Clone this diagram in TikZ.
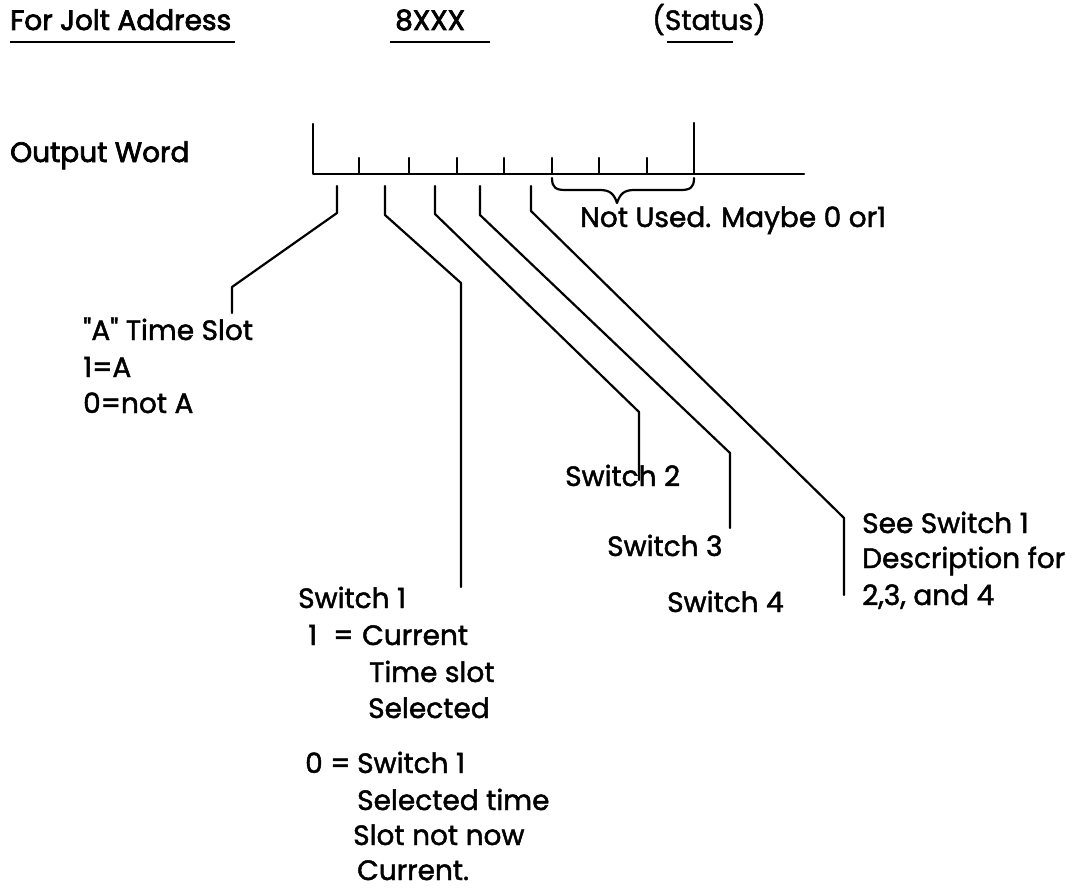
\documentclass[tikz,border=0pt]{standalone}
\usepackage{fontspec}
\setmainfont{Poppins}[Ligatures=TeXOff,FakeBold=1.6]
\newfontfamily\hdrfont{Poppins}[Ligatures=TeXOff,FakeBold=2.6]
\begin{document}
\begin{tikzpicture}[x=1pt,y=-1pt,
  wire/.style={line width=2.2pt, line cap=round, line join=round},
  txt/.style={anchor=base west, inner sep=0pt, font=\fontsize{28}{34}\selectfont},
  hdr/.style={txt, font=\hdrfont\fontsize{28}{34}\selectfont},
  uline/.style={line width=2.8pt}]
\useasboundingbox (0,0) rectangle (1073,888);

% ---------- header ----------
\node[hdr] (hdrA) at (10,30) {For Jolt Address};
\node[hdr] (hdrB) at (395,30) {8XXX};
\node[txt] (hdrC) at (652,30) {(Status)};
\coordinate (uA1) at (10,42);  \coordinate (uA2) at (235,42);
\coordinate (uB1) at (390,42); \coordinate (uB2) at (490,42);
\coordinate (uC1) at (667,42); \coordinate (uC2) at (733,42);
\draw[uline] (uA1) -- (uA2);
\draw[uline] (uB1) -- (uB2);
\draw[uline] (uC1) -- (uC2);

% ---------- output word ----------
\node[hdr] (ow) at (10,162) {Output Word};
\coordinate (w0) at (313,174);
\coordinate (wend) at (804,174);
\coordinate (lbt) at (313,124);
\coordinate (rbt) at (694,123);
\coordinate (rbb) at (694,174);
\draw[wire] (lbt) -- (w0) -- (wend);
\draw[wire] (rbt) -- (rbb);
\foreach \x in {359,409,457,504,552,599,647}
  \draw[wire] (\x,158) -- (\x,174);

% brace
\coordinate (brL) at (552,178);
\coordinate (brR) at (694,178);
\coordinate (brT) at (617,203);
\draw[wire] (brL) .. controls (552,188) and (556,190) .. (566,190)
  -- (600,190) .. controls (610,190) and (614,194) .. (brT)
  .. controls (620,194) and (624,190) .. (634,190)
  -- (680,190) .. controls (690,190) and (694,188) .. (brR);
\node[txt] (nu) at (580,227) {Not Used. Maybe 0 or1};

% ---------- labels ----------
\node[txt] (aslot) at (83,340) {"A" Time Slot};
\node[txt] (a1) at (83,377) {1=A};
\node[txt] (a0) at (83,413) {0=not A};

\node[txt] (s2) at (565,486) {Switch 2};
\node[txt] (s3) at (607,556) {Switch 3};
\node[txt] (s4) at (667,612) {Switch 4};

\node[txt] (see1) at (862,533) {See Switch 1};
\node[txt] (see2) at (862,568) {Description for};
\node[txt] (see3) at (862,605) {2,3, and 4};

\node[txt] (s1) at (298,608) {Switch 1};
\node[txt] (s1a) at (308,645) {1};
\node[txt] (s1b) at (333,645) {=};
\node[txt] (s1c) at (362,645) {Current};
\node[txt] (s1d) at (369,682) {Time slot};
\node[txt] (s1e) at (368,718) {Selected};
\node[txt] (s1f) at (305,773) {0};
\node[txt] (s1g) at (330,773) {=};
\node[txt] (s1h) at (357,773) {Switch 1};
\node[txt] (s1i) at (357,810) {Selected time};
\node[txt] (s1j) at (353,845) {Slot not now};
\node[txt] (s1k) at (357,880) {Current.};

% ---------- leader lines ----------
\coordinate (b1) at (337,186); \coordinate (e1) at (232,313);
\coordinate (b2) at (385,186); \coordinate (e2) at (461,587);
\coordinate (b3) at (435,186); \coordinate (e3) at (639,480);
\coordinate (b4) at (480,186); \coordinate (e4) at (730,528);
\coordinate (b5) at (531,186); \coordinate (e5) at (844,595);
\draw[wire] (b1) -- (337,213) -- (232,287) -- (e1);
\draw[wire] (b2) -- (385,215) -- (461,283) -- (e2);
\draw[wire] (b3) -- (435,214) -- (639,412) -- (e3);
\draw[wire] (b4) -- (480,215) -- (730,453) -- (e4);
\draw[wire] (b5) -- (531,211) -- (844,518) -- (e5);
\end{tikzpicture}
\end{document}
